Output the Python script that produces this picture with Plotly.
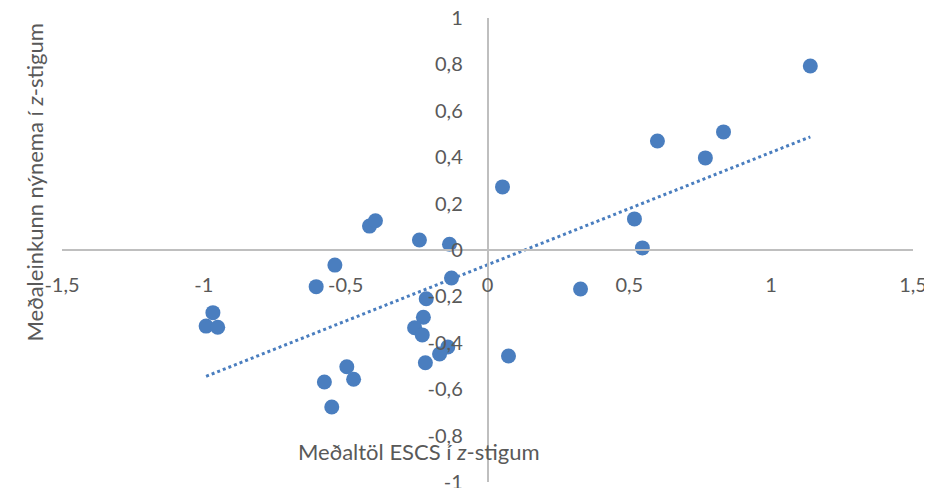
import numpy as np
import plotly.graph_objects as go

escs = [1.138, 0.832, 0.599, 0.768, 0.053, 0.518, 0.546, 0.328,
        -0.416, -0.395, -0.240, -0.134, -0.538, -0.604, -0.127, -0.216,
        -0.968, -0.992, -0.951, -0.226, -0.257, -0.230, -0.140, -0.169,
        -0.219, -0.496, -0.472, -0.575, -0.549, 0.074]
grade = [0.793, 0.509, 0.470, 0.397, 0.272, 0.134, 0.009, -0.168,
         0.103, 0.126, 0.043, 0.025, -0.065, -0.158, -0.121, -0.210,
         -0.270, -0.328, -0.333, -0.290, -0.335, -0.366, -0.418, -0.448,
         -0.486, -0.503, -0.557, -0.569, -0.677, -0.457]

x_ticks = [-1.5, -1, -0.5, 0, 0.5, 1, 1.5]
x_ticklabels = ["-1,5", "-1", "-0,5", "0", "0,5", "1", "1,5"]
y_ticks = [-1, -0.8, -0.6, -0.4, -0.2, 0, 0.2, 0.4, 0.6, 0.8, 1]
y_ticklabels = ["-1", "-0,8", "-0,6", "-0,4", "-0,2", "0", "0,2", "0,4", "0,6", "0,8", "1"]

x_title = "Meðaltöl ESCS í <i>z</i>-stigum"
y_title = "Meðaleinkunn nýnema í <i>z</i>-stigum"

x = np.array(escs)
y = np.array(grade)
slope, intercept = np.polyfit(x, y, 1)
tx = np.array([x.min(), x.max()])
ty = slope * tx + intercept

BLUE = "#4A7EBF"
GREY = "#595959"
FONT = "Lato"

# page has an 8px body margin; figure sized to fill the rest of the window
OFF = 8
W, H = 932 - OFF, 488 - OFF
L, R, T, B = 62 - OFF, 19, 18 - OFF, 6
pw, ph = W - L - R, H - T - B


def px2paper(px, py):
    fx, fy = px - OFF, py - OFF
    return (fx - L) / pw, (H - B - fy) / ph


fig = go.Figure()
fig.add_trace(go.Scatter(x=tx, y=ty, mode="lines",
                         line=dict(color=BLUE, width=3, dash="dot"),
                         hoverinfo="skip", showlegend=False))
fig.add_trace(go.Scatter(x=escs, y=grade, mode="markers",
                         marker=dict(color=BLUE, size=15),
                         showlegend=False, cliponaxis=False))

xa, ya = px2paper(419, 467)
xb, yb = px2paper(18, 183)

fig.update_layout(
    width=W, height=H,
    margin=dict(l=L, r=R, t=T, b=B, autoexpand=False),
    paper_bgcolor="white", plot_bgcolor="white",
    separators=", ",
    font=dict(family=FONT, color=GREY, size=20),
    xaxis=dict(range=[-1.5, 1.5], tickvals=x_ticks, ticktext=x_ticklabels,
               showgrid=False, zeroline=False, showline=True, automargin=False,
               linecolor="#BFBFBF", linewidth=1.5, ticks="", ticklabelstandoff=17,
               ticklabeloverflow="allow",
               anchor="free", position=0.5, tickfont=dict(size=20, color=GREY)),
    yaxis=dict(range=[-1, 1], tickvals=y_ticks, ticktext=y_ticklabels,
               showgrid=False, zeroline=False, showline=True, automargin=False,
               linecolor="#BFBFBF", linewidth=1.5, ticks="", ticklabelstandoff=20,
               ticklabeloverflow="allow",
               anchor="free", position=0.5, tickfont=dict(size=20, color=GREY)),
    annotations=[
        dict(text=x_title, x=xa, y=ya, xref="paper", yref="paper", showarrow=False,
             font=dict(size=22, color=GREY, family=FONT)),
        dict(text=y_title, x=xb, y=yb, xref="paper", yref="paper", showarrow=False,
             textangle=-90, font=dict(size=22, color=GREY, family=FONT)),
    ],
)
fig.write_html("out.html")
